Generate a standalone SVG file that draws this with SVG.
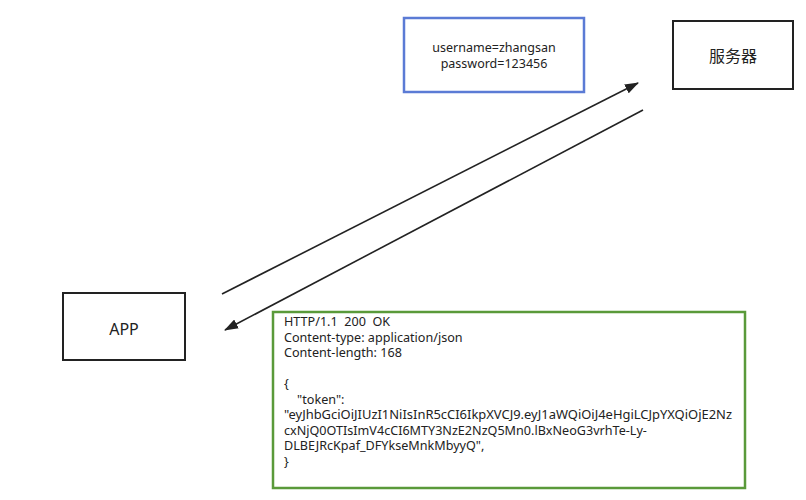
<svg xmlns="http://www.w3.org/2000/svg" width="806" height="500" viewBox="0 0 806 500">
<style>
text{font-family:"Noto Sans","Open Sans","Noto Sans CJK SC",sans-serif;fill:#222}
.node{fill:#fff;stroke:#222;stroke-width:2}
.c{text-anchor:middle}
.big{font-size:16px}
.cred{font-size:12.5px}
.m{font-size:12.6px}
.line{stroke:#222;stroke-width:1.6;fill:none;marker-end:url(#ah)}
</style>
<defs>
<marker id="ah" markerWidth="14" markerHeight="10" refX="13" refY="5" orient="auto" markerUnits="userSpaceOnUse">
<path d="M0,0 L14,5 L0,10 z" fill="#222"/>
</marker>
</defs>
<rect width="806" height="500" fill="#fff"/>
<g id="connectors">
<line class="line" x1="222" y1="294" x2="638" y2="83"/>
<line class="line" x1="643" y1="110" x2="225" y2="330"/>
</g>
<g id="credentials">
<rect x="404" y="18" width="180" height="74" fill="#fff" stroke="#5b7bd5" stroke-width="2.5"/>
<text class="c cred" x="494" y="52">username=zhangsan</text>
<text class="c cred" x="494" y="67.5">password=123456</text>
</g>
<g id="server">
<rect class="node" x="673" y="21" width="120" height="68"/>
<text class="c big" x="733" y="62">服务器</text>
</g>
<g id="app">
<rect class="node" x="63" y="293" width="122" height="67"/>
<text class="c big" x="124" y="335">APP</text>
</g>
<g id="response">
<rect x="273" y="312" width="472" height="176" fill="#fff" stroke="#5a9a3a" stroke-width="2.5"/>
<text class="m" x="284" y="326" xml:space="preserve">HTTP/1.1  200  OK</text>
<text class="m" x="284" y="341.5">Content-type: application/json</text>
<text class="m" x="284" y="357">Content-length: 168</text>
<text class="m" x="284" y="388">{</text>
<text class="m" x="284" y="403.5" xml:space="preserve">    "token":</text>
<text class="m" x="284" y="419" textLength="448" lengthAdjust="spacingAndGlyphs">"eyJhbGciOiJIUzI1NiIsInR5cCI6IkpXVCJ9.eyJ1aWQiOiJ4eHgiLCJpYXQiOjE2Nz</text>
<text class="m" x="284" y="434.5">cxNjQ0OTIsImV4cCI6MTY3NzE2NzQ5Mn0.lBxNeoG3vrhTe-Ly-</text>
<text class="m" x="284" y="450">DLBEJRcKpaf_DFYkseMnkMbyyQ",</text>
<text class="m" x="284" y="465.5">}</text>
</g>
</svg>
